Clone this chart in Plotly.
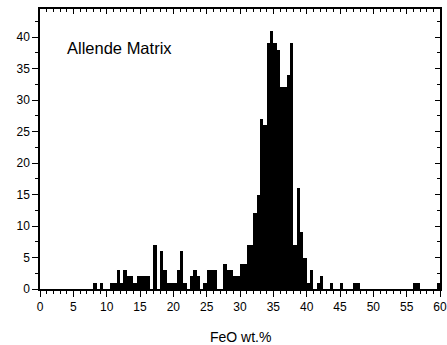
import plotly.graph_objects as go

# FeO histogram of Allende matrix (bin width 0.5 wt.%), nonzero bins only
bin_start = [8.0, 9.0, 10.5, 11.0, 11.5, 12.0, 12.5, 13.0, 13.5, 14.0, 14.5, 15.0,
             15.5, 16.0, 17.0, 18.0, 18.5, 19.0, 19.5, 20.0, 20.5, 21.0, 21.5,
             22.5, 23.0, 23.5, 24.5, 25.0, 25.5, 26.0, 27.5, 28.0, 28.5, 29.0,
             29.5, 30.0, 30.5, 31.0, 31.5, 32.0, 32.5, 33.0, 33.5, 34.0, 34.5,
             35.0, 35.5, 36.0, 36.5, 37.0, 37.5, 38.0, 38.5, 39.0, 39.5, 40.0,
             40.5, 41.5, 42.0, 43.5, 45.0, 47.0, 47.5, 56.0, 56.5, 59.5]
counts = [1, 1, 1, 1, 3, 1, 3, 2, 2, 1, 2, 2,
          2, 2, 7, 6, 3, 1, 1, 1, 3, 6, 1,
          2, 3, 2, 1, 3, 3, 3, 4, 3, 3, 2,
          2, 4, 4, 7, 7, 12, 15, 27, 26, 39, 41,
          39, 38, 32, 32, 34, 39, 7, 16, 9, 5, 1,
          3, 1, 2, 1, 1, 1, 1, 1, 1, 1]
bin_width = 0.5

x_ticks = [0, 5, 10, 15, 20, 25, 30, 35, 40, 45, 50, 55, 60]
y_ticks = [0, 5, 10, 15, 20, 25, 30, 35, 40]

FONT = "Liberation Sans, Arial, sans-serif"
centers = [b + bin_width / 2 for b in bin_start]

fig = go.Figure()
fig.add_trace(go.Bar(x=centers, y=counts, width=bin_width,
                     marker=dict(color="black", line=dict(width=0)),
                     showlegend=False, hoverinfo="skip"))
# invisible trace to anchor mirrored inner-tick axes
fig.add_trace(go.Scatter(x=[0], y=[0], xaxis="x2", yaxis="y2", mode="markers",
                         marker=dict(opacity=0), showlegend=False, hoverinfo="skip"))

xr = [0, 60]
yr = [0, 44.45]

fig.update_layout(
    width=447, height=345,
    margin=dict(l=40, r=7, t=9, b=56),
    paper_bgcolor="white", plot_bgcolor="white",
    bargap=0,
    font=dict(family=FONT, size=12, color="black"),
    xaxis=dict(range=xr, tickvals=x_ticks, ticks="outside", ticklen=6, tickwidth=1,
               tickcolor="black", showline=True, linecolor="black", linewidth=1.5,
               showgrid=False, zeroline=False, automargin=False,
               minor=dict(dtick=1, ticks="outside", ticklen=3, tickcolor="black", tickwidth=1),
               tickfont=dict(size=12)),
    yaxis=dict(range=yr, tickvals=y_ticks, ticks="outside", ticklen=6, tickwidth=1,
               tickcolor="black", showline=True, linecolor="black", linewidth=1.5,
               showgrid=False, zeroline=False, automargin=False,
               minor=dict(dtick=2.5, tick0=0, ticks="outside", ticklen=3, tickcolor="black", tickwidth=1),
               tickfont=dict(size=12)),
    xaxis2=dict(range=xr, overlaying="x", side="top", anchor="y", tickvals=x_ticks,
                ticks="inside", ticklen=5, tickwidth=1, tickcolor="black",
                showline=True, linecolor="black", linewidth=1.5, showticklabels=False,
                showgrid=False, zeroline=False, automargin=False,
                minor=dict(dtick=1, ticks="inside", ticklen=3, tickcolor="black", tickwidth=1)),
    yaxis2=dict(range=yr, overlaying="y", side="right", anchor="x", tickvals=y_ticks,
                ticks="inside", ticklen=5, tickwidth=1, tickcolor="black",
                showline=True, linecolor="black", linewidth=1.5, showticklabels=False,
                showgrid=False, zeroline=False, automargin=False,
                minor=dict(dtick=2.5, tick0=0, ticks="inside", ticklen=3, tickcolor="black", tickwidth=1)),
    annotations=[
        dict(text="Allende Matrix", xref="paper", yref="paper",
             x=0.0625, y=0.862, xanchor="left", yanchor="middle",
             showarrow=False, font=dict(size=16.5, family=FONT)),
        dict(text="FeO wt.%", xref="paper", yref="paper",
             x=0.5, y=-0.17, xanchor="center", yanchor="middle",
             showarrow=False, font=dict(size=14, family=FONT)),
    ],
)

fig.write_html("out.html")
